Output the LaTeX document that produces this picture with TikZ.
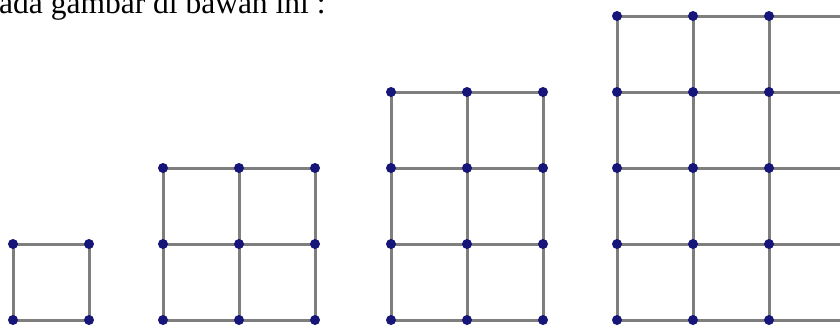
\documentclass[tikz,border=0pt]{standalone}
\usepackage{fontspec}
\setmainfont{Liberation Serif}
\definecolor{edgegray}{HTML}{7E7E7E}
\definecolor{dotblue}{HTML}{15157A}
\tikzset{
  gline/.style={draw=edgegray, line width=3pt},
  dot/.style={circle, fill=dotblue, inner sep=0pt, minimum size=10pt},
}
\newcommand{\mygrid}[5]{% name, x0, ybottom, cols, rows
  \foreach \i in {0,...,#4}{
    \draw[gline] (#2+\i*76, -#3) -- (#2+\i*76, -#3+#5*76);
  }
  \foreach \j in {0,...,#5}{
    \draw[gline] (#2, -#3+\j*76) -- (#2+#4*76, -#3+\j*76);
  }
  \foreach \i in {0,...,#4}{
    \foreach \j in {0,...,#5}{
      \node[dot] (#1-\i-\j) at (#2+\i*76, -#3+\j*76) {};
    }
  }
}
\begin{document}
\begin{tikzpicture}[x=1pt,y=1pt]
\useasboundingbox (0,0) rectangle (840,-327);
\node[anchor=base west, inner sep=0pt, font=\fontsize{31.5}{33}\selectfont] (title) at (-1,-13) {ada gambar di bawah ini :};
\mygrid{a}{13}{320}{1}{1}
\mygrid{b}{163}{320}{2}{2}
\mygrid{c}{391}{320}{2}{3}
\mygrid{d}{617}{320}{3}{4}
\end{tikzpicture}
\end{document}
